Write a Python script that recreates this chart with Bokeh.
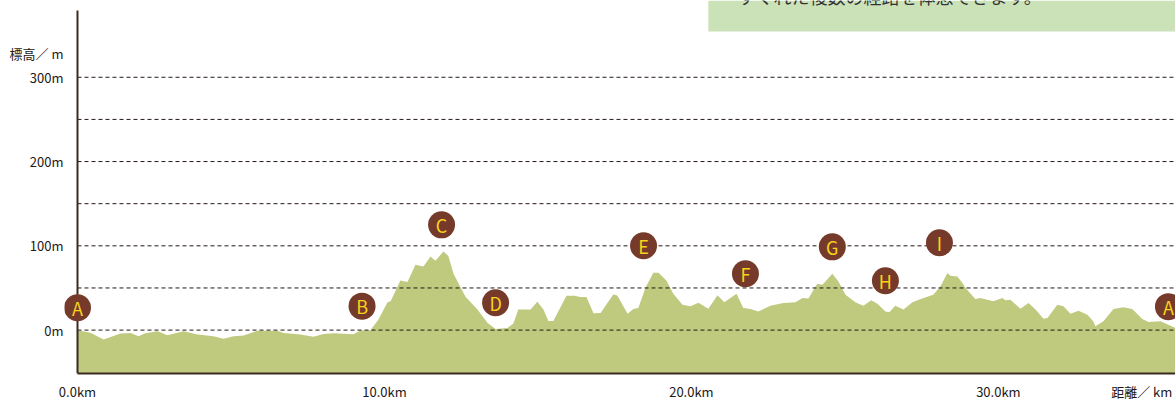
from bokeh.plotting import figure
from bokeh.models import FixedTicker, BoxAnnotation
from bokeh.core.properties import value
from bokeh.embed import file_html
from bokeh.resources import INLINE

# ---- data ----
distance_km = [0.00, 0.42, 0.85, 1.40, 1.73, 1.99, 2.21, 2.61, 2.93, 3.45, 3.91, 4.43, 4.76, 5.08,
               5.41, 5.86, 6.51, 6.71, 7.26, 7.69, 8.01, 8.34, 8.99, 9.22, 9.54, 9.80, 10.10, 10.20,
               10.52, 10.75, 11.01, 11.27, 11.50, 11.66, 11.92, 12.08, 12.25, 12.64, 13.03, 13.36,
               13.62, 14.01, 14.20, 14.36, 14.76, 14.98, 15.18, 15.34, 15.50, 15.93, 16.19, 16.38,
               16.58, 16.81, 17.04, 17.46, 17.59, 17.92, 18.11, 18.27, 18.50, 18.76, 18.93, 19.19,
               19.41, 19.71, 19.97, 20.23, 20.55, 20.85, 21.07, 21.47, 21.69, 21.92, 22.18, 22.57,
               23.00, 23.39, 23.62, 23.81, 24.10, 24.27, 24.59, 24.79, 25.02, 25.34, 25.60, 25.86,
               26.06, 26.32, 26.45, 26.64, 26.91, 27.20, 27.56, 27.88, 28.11, 28.34, 28.44, 28.66,
               28.83, 28.93, 29.25, 29.41, 29.84, 30.13, 30.23, 30.39, 30.72, 30.98, 31.21, 31.47,
               31.60, 31.92, 32.12, 32.35, 32.61, 32.90, 33.09, 33.16, 33.42, 33.75, 34.07, 34.36,
               34.69, 34.89, 35.28, 35.77]
elevation_m = [-0.2, -3.0, -11.2, -4.1, -3.3, -7.3, -3.8, -1.4, -6.2, -1.4, -5.3, -7.3, -10.4, -7.3,
               -6.5, -0.9, -0.9, -3.3, -5.3, -8.0, -4.5, -3.8, -5.0, -0.6, -0.2, 12.4, 32.9, 34.1,
               58.9, 57.0, 77.5, 75.5, 87.3, 82.2, 93.3, 88.2, 66.9, 39.6, 24.3, 8.5,
               1.4, 2.6, 7.7, 24.3, 24.3, 33.7, 24.3, 10.7, 10.7, 40.8, 40.8, 39.3,
               39.3, 20.1, 20.4, 42.6, 40.8, 19.5, 25.1, 26.3, 49.9, 68.0, 68.0, 58.6,
               43.2, 30.2, 28.4, 32.5, 25.4, 41.4, 32.9, 43.2, 26.3, 25.1, 22.2, 29.0,
               32.2, 32.9, 38.1, 37.6, 55.0, 53.8, 66.9, 57.8, 42.0, 32.9, 29.0, 35.3,
               31.4, 22.2, 21.1, 29.0, 24.3, 32.9, 38.1, 42.0, 51.8, 67.7, 64.5, 63.7,
               55.9, 49.9, 36.9, 38.1, 34.1, 38.1, 35.3, 36.1, 25.4, 32.2, 24.3, 13.6,
               14.4, 30.2, 28.2, 19.5, 23.1, 18.3, 10.4, 4.5, 10.4, 25.1, 27.0, 25.1,
               13.3, 9.7, 10.4, 2.6]

point_labels = ["A", "B", "C", "D", "E", "F", "G", "H", "I", "A"]
point_km = [0.0, 9.27, 11.86, 13.62, 18.44, 21.76, 24.59, 26.32, 28.08, 35.54]
point_m = [26.6, 28.4, 124.9, 32.5, 100.0, 66.9, 98.8, 58.6, 103.6, 27.8]

grid_levels = [0, 50, 100, 150, 200, 250, 300]
y_ticks = [0, 100, 200, 300]
y_tick_labels = ["0m", "100m", "200m", "300m"]
x_ticks = [0, 10, 20, 30]
x_tick_labels = ["0.0km", "10.0km", "20.0km", "30.0km"]
y_title = "標高／ m"
y_title_pos = 328.4
x_title = "距離／ km"
x_title_pos = 34.67
note_text = "すぐれた複数の経路を体感できます。"
note_km = 21.50
note_m = 380.0

X_START, X_END = -0.4235, 35.77
Y_MIN, Y_MAX = -51.5, 391.1
Y_AXIS_TOP = 379.3

FONT = "Noto Sans CJK JP"
TEXT_COLOR = "#231815"
AXIS_COLOR = "#3b2a20"

p = figure(frame_width=1111, frame_height=373, x_range=(X_START, X_END), y_range=(Y_MIN, Y_MAX),
           output_backend="svg", toolbar_location=None,
           min_border_left=64, min_border_right=0, min_border_top=0, min_border_bottom=26)
p.outline_line_color = None
p.background_fill_color = "white"
p.xgrid.visible = False
p.ygrid.visible = False

# top-right green box with the note text (cut off at the top, as in the reference)
p.add_layout(BoxAnnotation(left=20.55, bottom=354.4, fill_color="#cbe2b9", fill_alpha=1,
                           line_alpha=0, level="underlay"))
p.text(x=[note_km], y=[note_m], text=[note_text], text_align="left", text_baseline="alphabetic",
       y_offset=-14, text_color="#333333", text_font=value(FONT), text_font_size="18px")

# profile fill
p.varea(x=distance_km, y1=[Y_MIN - 10] * len(distance_km), y2=elevation_m,
        fill_color="#bfca7f", fill_alpha=1)

# dashed grid lines (from axis at 0 km to right edge)
p.segment(x0=[0] * len(grid_levels), x1=[X_END] * len(grid_levels),
          y0=grid_levels, y1=grid_levels,
          line_color="#231815", line_width=1, line_dash="4 3")

# vertical axis line
p.segment(x0=[0], x1=[0], y0=[Y_MIN], y1=[Y_AXIS_TOP], line_color=AXIS_COLOR, line_width=2)

# markers
p.scatter(x=point_km, y=point_m, size=27, fill_color="#763a2b", line_color=None)
p.text(x=point_km, y=point_m, text=point_labels, text_align="center", text_baseline="middle",
       text_color="#f8d31b", text_font=value(FONT), text_font_size="18px")

# axes
xa = p.xaxis[0]
xa.ticker = FixedTicker(ticks=x_ticks + [x_title_pos])
ov = {t: l for t, l in zip(x_ticks, x_tick_labels)}
ov[x_title_pos] = x_title
xa.major_label_overrides = ov
xa.bounds = (0, X_END)
xa.axis_line_color = AXIS_COLOR
xa.axis_line_width = 2
xa.major_tick_line_color = None
xa.minor_tick_line_color = None
xa.major_tick_out = 0
xa.major_tick_in = 0
xa.major_label_standoff = 8
xa.major_label_text_font = FONT
xa.major_label_text_font_size = "13px"
xa.major_label_text_color = TEXT_COLOR

ya = p.yaxis[0]
ya.ticker = FixedTicker(ticks=y_ticks + [y_title_pos])
ovy = {t: l for t, l in zip(y_ticks, y_tick_labels)}
ovy[y_title_pos] = y_title
ya.major_label_overrides = ovy
ya.axis_line_color = None
ya.major_tick_line_color = None
ya.minor_tick_line_color = None
ya.major_tick_out = 0
ya.major_tick_in = 0
ya.major_label_standoff = 1
ya.major_label_text_font = FONT
ya.major_label_text_font_size = "13px"
ya.major_label_text_color = TEXT_COLOR

open("out.html", "w").write(file_html(p, INLINE))
